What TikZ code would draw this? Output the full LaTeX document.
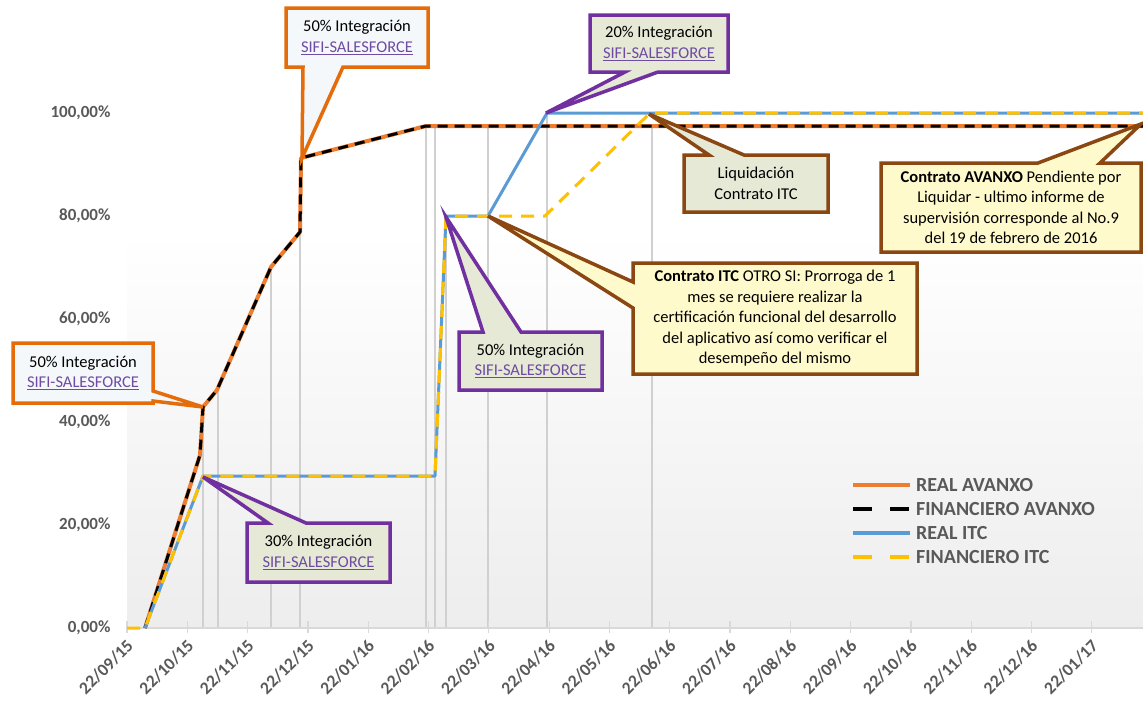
\documentclass[tikz,border=0pt]{standalone}
\usepackage{fontspec}
\setmainfont{Carlito}
\definecolor{xorange}{HTML}{ED7D31}
\definecolor{xblue}{HTML}{5B9BD5}
\definecolor{xyellow}{HTML}{FFC000}
\definecolor{calor}{HTML}{E46C0A}
\definecolor{calpur}{HTML}{7030A0}
\definecolor{calbrn}{HTML}{8A4712}
\definecolor{lnk}{HTML}{6F4BA3}
\definecolor{sage}{HTML}{E5E9D6}
\definecolor{lyel}{HTML}{FFFACC}
\definecolor{pale}{HTML}{F5F8FB}
\definecolor{axgray}{HTML}{595959}
\definecolor{dropc}{HTML}{D0D0D0}
\definecolor{axline}{HTML}{D9D9D9}
\newcommand{\lnktxt}{\textcolor{lnk}{\underline{SIFI-SALESFORCE}}}
\tikzset{
  dropl/.style={draw=dropc, line width=1.5},
  axl/.style={draw=axline, line width=1.2},
  ylab/.style={anchor=east, text=axgray, font=\fontsize{17}{19}\selectfont\bfseries},
  xlab/.style={anchor=east, rotate=45, text=axgray, font=\fontsize{17.5}{19}\selectfont\bfseries, inner sep=1pt},
  serorange/.style={draw=xorange, line width=4, line join=round},
  serblack/.style={draw=black, line width=3, dash pattern=on 10 off 7, line join=round},
  serblue/.style={draw=xblue, line width=3, line join=round},
  seryellow/.style={draw=xyellow, line width=3, dash pattern=on 13 off 9, line join=round},
  calloutor/.style={draw=calor, fill=pale, line width=3.5, line join=miter},
  calloutpu/.style={draw=calpur, fill=sage, line width=3.5, line join=miter},
  calloutbrs/.style={draw=calbrn, fill=sage, line width=3.5, line join=miter},
  calloutbry/.style={draw=calbrn, fill=lyel, line width=3.5, line join=miter},
  ctext/.style={align=center, font=\fontsize{16.5}{20.5}\selectfont, inner sep=0pt},
  legtext/.style={anchor=west, text=axgray, font=\fontsize{20}{21}\selectfont\bfseries, inner sep=0pt},
}
\begin{document}
\begin{tikzpicture}[x=1pt,y=-1pt]
\useasboundingbox (0,0) rectangle (1143,705);
\fill[white] (0,0) rectangle (1143,705);
\shade[top color=white, bottom color=black!7] (127,230) rectangle (1143,628);
% drop lines
\foreach \x/\y in {203/407, 218/390, 271/267, 300/158, 426/126, 435/126, 446/216, 488/126, 547/113, 652/126}
  \draw[dropl] (\x,\y) -- (\x,628);
% axis
\draw[axl] (127,628) -- (1143,628);
\foreach \lab [count=\i from 0] in {{22/09/15},{22/10/15},{22/11/15},{22/12/15},{22/01/16},{22/02/16},{22/03/16},{22/04/16},{22/05/16},{22/06/16},{22/07/16},{22/08/16},{22/09/16},{22/10/16},{22/11/16},{22/12/16},{22/01/17}}{
  \pgfmathsetmacro{\tx}{127+\i*60.3}
  \draw[axl] (\tx,621) -- (\tx,633);
  \node[xlab] (xl\i) at (\tx+4,642) {\lab};
}
% y labels
\foreach \v/\t in {0/{0,00\%},20/{20,00\%},40/{40,00\%},60/{60,00\%},80/{80,00\%},100/{100,00\%}}{
  \node[ylab] (yl\v) at (114,628-\v*5.15) {\t};
}
% series
\coordinate (o0) at (145,628);
\draw[serorange] (o0) -- (200,455) -- (203,407) -- (217,390) -- (271,267) -- (300,232) -- (301,158) -- (426,126) -- (1143,126);
\draw[serblack] (o0) -- (200,455) -- (203,407) -- (217,390) -- (271,267) -- (300,232) -- (301,158) -- (426,126) -- (1143,126);
\draw[serblue] (145,628) -- (203,476) -- (435,476) -- (446,216) -- (488,216) -- (547,113) -- (1143,113);
\draw[seryellow] (127,628) -- (145,628) -- (203,476) -- (435,476) -- (446,216) -- (545,216) -- (650,113) -- (1143,113);
% tips
\coordinate (t1) at (302,158);
\coordinate (t2) at (203,407);
\coordinate (t3) at (203,477);
\coordinate (t4) at (446,217);
\coordinate (t5) at (546,113);
\coordinate (t6) at (649,114);
\coordinate (t7) at (488,216);
\coordinate (t8) at (1141,124);
% callouts
\draw[calloutor] (286,8) -- (428,8) -- (428,67) -- (343,67) -- (t1) -- (303,67) -- (286,67) -- cycle;
\node[ctext] (c1) at (357,37.5) {50\% Integración\\\lnktxt};
\draw[calloutor] (13,343) -- (153,343) -- (153,391) -- (t2) -- (153,401) -- (153,403) -- (13,403) -- cycle;
\node[ctext] (c2) at (83,373) {50\% Integración\\\lnktxt};
\draw[calloutpu] (247,523) -- (268,523) -- (t3) -- (306,523) -- (390,523) -- (390,582) -- (247,582) -- cycle;
\node[ctext] (c3) at (318.5,552.5) {30\% Integración\\\lnktxt};
\draw[calloutpu] (459,332) -- (483,332) -- (t4) -- (521,332) -- (602,332) -- (602,390) -- (459,390) -- cycle;
\node[ctext] (c4) at (530.5,361) {50\% Integración\\\lnktxt};
\draw[calloutpu] (590,15) -- (728,15) -- (728,72) -- (658,72) -- (t5) -- (625,72) -- (590,72) -- cycle;
\node[ctext] (c5) at (659,43.5) {20\% Integración\\\lnktxt};
\draw[calloutbrs] (684,155) -- (709,155) -- (t6) -- (744,155) -- (828,155) -- (828,212) -- (684,212) -- cycle;
\node[ctext] (c6) at (756,183.5) {Liquidación\\Contrato ITC};
\draw[calloutbry] (633,263) -- (917,263) -- (917,374) -- (633,374) -- (633,308) -- (t7) -- (633,282) -- cycle;
\node[ctext] (c7) at (775,318.5) {\textbf{Contrato ITC} OTRO SI: Prorroga de 1\\mes se requiere realizar la\\certificación funcional del desarrollo\\del aplicativo así como verificar el\\desempeño del mismo};
\draw[calloutbry] (881,163) -- (1038,163) -- (t8) -- (1100,163) -- (1141,163) -- (1141,252) -- (881,252) -- cycle;
\node[ctext] (c8) at (1011,207.5) {\textbf{Contrato AVANXO} Pendiente por\\Liquidar - ultimo informe de\\supervisión corresponde al No.9\\del 19 de febrero de 2016};
% legend
\coordinate (la1) at (853,485); \coordinate (lb1) at (910,485);
\coordinate (la2) at (853,509); \coordinate (lb2) at (910,509);
\coordinate (la3) at (853,533); \coordinate (lb3) at (910,533);
\coordinate (la4) at (853,557); \coordinate (lb4) at (910,557);
\draw[draw=xorange, line width=4] (la1) -- (lb1);
\draw[draw=black, line width=4, dash pattern=on 19 off 18] (la2) -- (lb2);
\draw[draw=xblue, line width=4] (la3) -- (lb3);
\draw[draw=xyellow, line width=4, dash pattern=on 19 off 18] (la4) -- (lb4);
\node[legtext] (lg1) at (916,485) {REAL AVANXO};
\node[legtext] (lg2) at (916,509) {FINANCIERO AVANXO};
\node[legtext] (lg3) at (916,533) {REAL ITC};
\node[legtext] (lg4) at (916,557) {FINANCIERO ITC};
\end{tikzpicture}
\end{document}
